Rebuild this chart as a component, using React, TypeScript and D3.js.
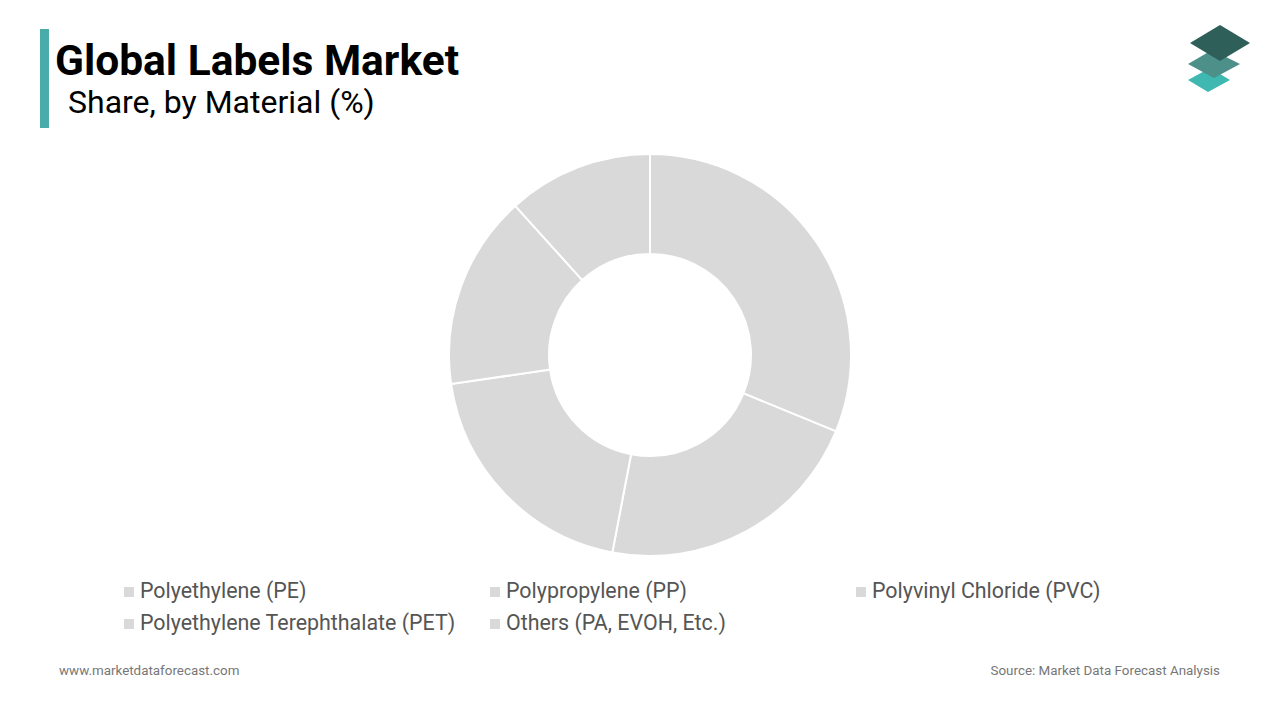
import React from "react";
import * as d3 from "d3";

const categories = [
  "Polyethylene (PE)",
  "Polypropylene (PP)",
  "Polyvinyl Chloride (PVC)",
  "Polyethylene Terephthalate (PET)",
  "Others (PA, EVOH, Etc.)",
];
const shares = [31.2, 21.8, 19.7, 15.6, 11.7];

const W = 1280;
const H = 720;

export default function App() {
  const cx = 650;
  const cy = 355;
  const outerR = 201;
  const innerR = 101;
  const pie = d3.pie<number>().sort(null).value((d) => d);
  const arcs = pie(shares);
  const arcGen = d3.arc<d3.PieArcDatum<number>>().innerRadius(innerR).outerRadius(outerR);

  const legendCols = [124, 490, 856];
  const legendRows = [591, 623];

  return (
    <svg
      width={W}
      height={H}
      style={{ position: "absolute", left: 0, top: 0, display: "block", background: "#fff" }}
      fontFamily="Roboto, 'Noto Sans', sans-serif"
    >
      <rect x={40} y={29} width={9} height={99} fill="#4aabab" />
      <text x={55} y={75} fontSize={42.5} fontWeight={700} fill="#000">
        Global Labels Market
      </text>
      <text x={68} y={113} fontSize={32} fill="#000">
        Share, by Material (%)
      </text>

      {/* logo */}
      <g>
        <polygon points="1188,80 1210,68 1230,80 1208,92" fill="#3fb8b2" />
        <polygon points="1188,64 1212,50 1240,64 1214,78" fill="#4d8f89" />
        <polygon points="1190,43 1220,25 1250,43 1220,61" fill="#2e5f59" />
      </g>

      <g transform={`translate(${cx},${cy})`}>
        {arcs.map((a, i) => (
          <path key={i} d={arcGen(a) || ""} fill="#d9d9d9" stroke="#fff" strokeWidth={2} />
        ))}
      </g>

      {categories.map((c, i) => {
        const col = i < 3 ? i : i - 3;
        const row = i < 3 ? 0 : 1;
        const x = legendCols[col];
        const y = legendRows[row];
        return (
          <g key={c}>
            <rect x={x} y={y - 4} width={10} height={10} fill="#d9d9d9" />
            <text x={x + 16} y={y} dy="0.35em" fontSize={21.4} fill="#555">
              {c}
            </text>
          </g>
        );
      })}

      <text x={59} y={675} fontSize={13.4} fill="#777">
        www.marketdataforecast.com
      </text>
      <text x={1220} y={675} fontSize={13.4} fill="#777" textAnchor="end">
        Source: Market Data Forecast Analysis
      </text>
    </svg>
  );
}
